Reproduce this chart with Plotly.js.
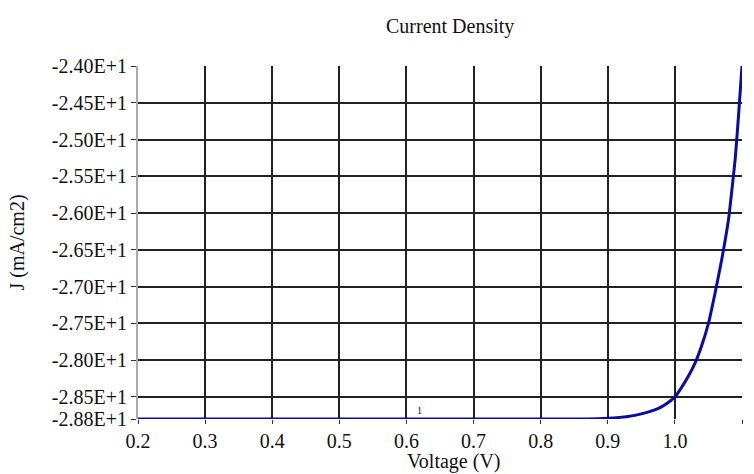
<!DOCTYPE html>
<html><head><meta charset="utf-8">
<script src="https://cdn.plot.ly/plotly-3.0.1.min.js"></script>
<style>html,body{margin:0;padding:0;background:#fff}#chart{width:754px;height:474px}</style>
</head><body><div id="chart"></div>
<script>
const voltage = [0.2, 0.3, 0.4, 0.5, 0.6, 0.7, 0.8, 0.85, 0.87, 0.9, 0.93, 0.95, 0.97, 0.98, 0.99, 1.0, 1.01, 1.02, 1.03, 1.04, 1.05, 1.06, 1.07, 1.08, 1.085, 1.09, 1.095, 1.1];
const currentDensity = [-28.8, -28.8, -28.8, -28.8, -28.8, -28.8, -28.8, -28.8, -28.8, -28.79, -28.765, -28.73, -28.675, -28.635, -28.575, -28.5, -28.37, -28.22, -28.04, -27.8, -27.5, -27.08, -26.62, -26.08, -25.68, -25.25, -24.65, -24.0];
const yTickVals = [-24.0, -24.5, -25.0, -25.5, -26.0, -26.5, -27.0, -27.5, -28.0, -28.5, -28.8];
const yTickText = ["-2.40E+1", "-2.45E+1", "-2.50E+1", "-2.55E+1", "-2.60E+1", "-2.65E+1", "-2.70E+1", "-2.75E+1", "-2.80E+1", "-2.85E+1", "-2.88E+1"];
const xTickVals = [0.2, 0.3, 0.4, 0.5, 0.6, 0.7, 0.8, 0.9, 1.0, 1.1];
const markerLabel = {x: 0.62, y: -28.8, text: "1"};
const xTitle = "Voltage (V)";

const font = {family: "'Liberation Serif', 'Times New Roman', serif", color: "#111"};
const f = s => Object.assign({size: s}, font);
Plotly.newPlot("chart", [{
  x: voltage, y: currentDensity, type: "scatter", mode: "lines",
  line: {color: "#0a0aa8", width: 3, shape: "spline", smoothing: 0.6}, cliponaxis: false, showlegend: false
}], {
  width: 754, height: 474,
  margin: {l: 138, r: 12, t: 66, b: 55},
  paper_bgcolor: "#fff", plot_bgcolor: "#fff",
  font: f(20),
  title: {text: "Current Density", x: 0.597, xanchor: "center", y: 0.945, yanchor: "middle", font: f(20)},
  xaxis: {
    range: [0.2, 1.1], tickvals: xTickVals, tickformat: ".1f",
    showgrid: true, gridcolor: "#222", gridwidth: 2,
    zeroline: false, showline: false,
    ticks: "outside", ticklen: 4, tickcolor: "#333", tickwidth: 1,
    tickfont: f(20)
  },
  yaxis: {
    range: [-28.8, -24.0], tickvals: yTickVals, ticktext: yTickText,
    showgrid: true, gridcolor: "#222", gridwidth: 2,
    zeroline: false, showline: true, linecolor: "#aaa", linewidth: 2,
    ticks: "outside", ticklen: 5, tickcolor: "#333", tickwidth: 1,
    tickfont: f(20),
    title: {text: "J (mA/cm2)", standoff: 22, font: f(20)}
  },
  annotations: [
    {x: markerLabel.x, y: markerLabel.y, text: markerLabel.text, showarrow: false, yanchor: "bottom", yshift: 1, font: f(10)},
    {xref: "paper", yref: "paper", x: 0.523, y: -0.119, xanchor: "center", yanchor: "middle", text: xTitle, showarrow: false, font: f(20)}
  ]
}, {staticPlot: true});
</script></body></html>
